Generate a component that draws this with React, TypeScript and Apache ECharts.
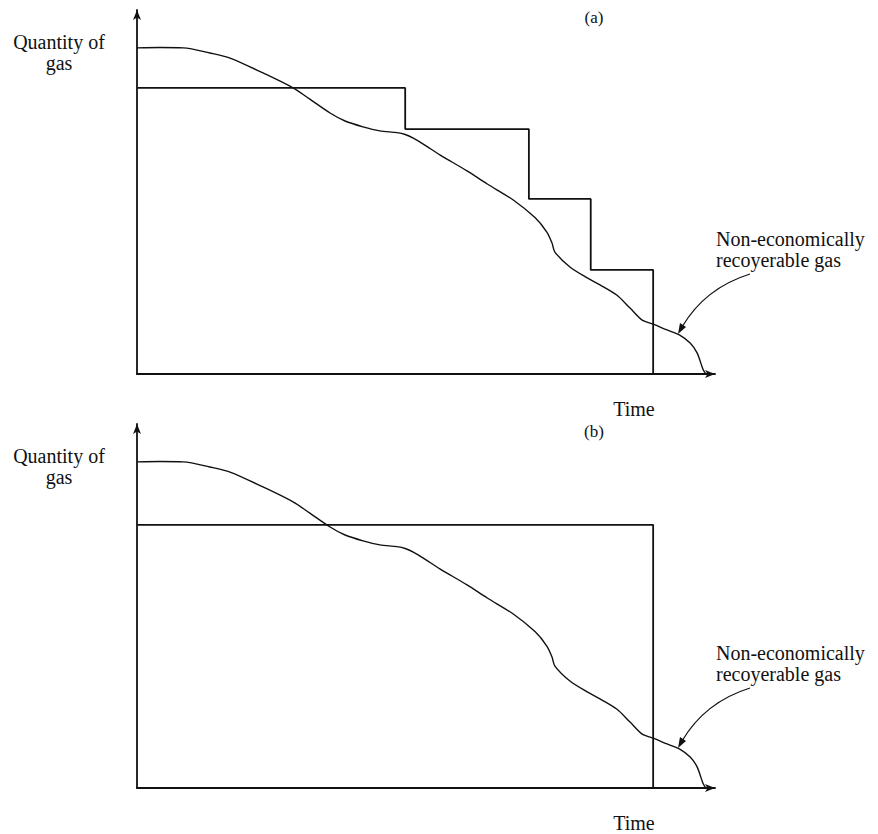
import React, { useEffect, useRef } from "react";
import * as echarts from "echarts";

// Gas quantity decline curve (arbitrary units: time 0–100, quantity 0–100)
const timeCurve = [0, 4.0, 8.0, 12.6, 16.1, 21.8, 27.0, 29.9, 33.4, 36.0, 39.1, 42.0, 45.0, 46.4, 47.8, 49.8, 52.4, 57.1, 60.6, 65.1, 68.9, 70.9, 71.8, 72.3, 74.9, 77.9, 80.1, 83.0, 85.3, 87.4, 89.3, 91.7, 93.9, 95.7, 96.9, 97.9, 98.4];
const gasCurve = [89.6, 89.7, 89.6, 88.2, 86.8, 82.7, 78.6, 75.5, 71.7, 69.5, 67.9, 66.8, 66.3, 65.8, 64.8, 62.9, 60.2, 55.8, 52.2, 47.8, 42.9, 39.0, 36.0, 33.5, 29.4, 26.4, 24.5, 21.7, 18.1, 14.8, 13.7, 12.1, 10.7, 8.5, 5.8, 1.4, 0];

// (a) stepped contract profile
const stepTimeA = [0, 46.4, 46.4, 67.8, 67.8, 78.5, 78.5, 89.3, 89.3];
const stepGasA = [78.6, 78.6, 67.3, 67.3, 48.1, 48.1, 28.6, 28.6, 0];

// (b) flat contract profile
const flatTimeB = [0, 89.3, 89.3];
const flatGasB = [72.3, 72.3, 0];

const panelLabels = ["(a)", "(b)"];
const yAxisTitle = ["Quantity of", "gas"];
const xAxisTitle = "Time";
const annotation = ["Non-economically", "recoyerable gas"];

const zip = (xs: number[], ys: number[]) => xs.map((x, i) => [x, ys[i]]);

const FONT = '20px "Liberation Serif", "DejaVu Serif", serif';
const INK = "#111";

export default function App() {
  const ref = useRef<HTMLDivElement>(null);

  useEffect(() => {
    document.body.style.margin = "0";
    const chart = echarts.init(ref.current!, null, { renderer: "svg" });

    const gridTops = [10, 424];
    const gridH = 364;

    const axisCommon = {
      type: "value" as const,
      min: 0,
      max: 100,
      axisLine: {
        show: true,
        symbol: ["none", "arrow"],
        symbolSize: [6, 10],
        lineStyle: { color: INK, width: 1.8 },
      },
      axisTick: { show: false },
      axisLabel: { show: false },
      splitLine: { show: false },
    };

    const txt = (text: string, x: number, y: number, align: string, va: string, font = FONT) => ({
      type: "text",
      style: { text, x, y, font, fill: INK, align, verticalAlign: va, textAlign: align, textVerticalAlign: va },
    });

    const graphics: any[] = [];
    gridTops.forEach((top, i) => {
      const off = top - 10;
      graphics.push(
        txt(yAxisTitle[0], 59, 42 + off, "center", "middle"),
        txt(yAxisTitle[1], 59, 63 + off, "center", "middle"),
        txt(panelLabels[i], 594, 17 + off, "center", "middle", '17px "Liberation Serif", serif'),
        txt(xAxisTitle, 634, 409 + off, "center", "middle"),
        txt(annotation[0], 716, 249 + off, "left", "bottom"),
        txt(annotation[1], 716, 270 + off, "left", "bottom"),
        { type: "bezierCurve", shape: { x1: 750, y1: 274 + off, cpx1: 705, cpy1: 288 + off, x2: 682, y2: 327 + off }, style: { stroke: INK, lineWidth: 1.3, fill: null } },
        { type: "polygon", shape: { points: [[678, 334 + off], [686, 327 + off], [680, 323 + off]] }, style: { fill: INK } }
      );
    });

    const curveSeries = (g: number) => ({
      type: "line", xAxisIndex: g, yAxisIndex: g, data: zip(timeCurve, gasCurve),
      smooth: 0.3, showSymbol: false, silent: true, lineStyle: { color: INK, width: 1.4 },
    });
    const profileSeries = (g: number, xs: number[], ys: number[]) => ({
      type: "line", xAxisIndex: g, yAxisIndex: g, data: zip(xs, ys),
      showSymbol: false, silent: true, lineStyle: { color: INK, width: 1.8 },
    });

    chart.setOption({
      animation: false,
      backgroundColor: "#fff",
      grid: gridTops.map((top) => ({ left: 137, top, width: 578, height: gridH })),
      xAxis: [0, 1].map((g) => ({ ...axisCommon, gridIndex: g })),
      yAxis: [0, 1].map((g) => ({ ...axisCommon, gridIndex: g })),
      series: [
        curveSeries(0),
        profileSeries(0, stepTimeA, stepGasA),
        curveSeries(1),
        profileSeries(1, flatTimeB, flatGasB),
      ],
      graphic: graphics,
    });

    return () => chart.dispose();
  }, []);

  return <div ref={ref} style={{ width: 878, height: 834 }} />;
}
